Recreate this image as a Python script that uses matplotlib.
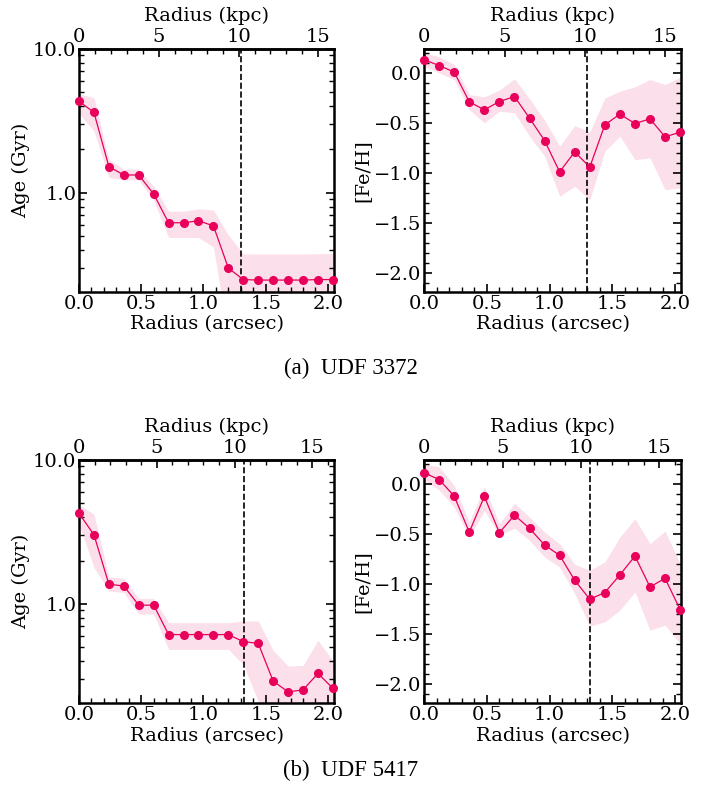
import numpy as np
import matplotlib
matplotlib.use("Agg")
import matplotlib.pyplot as plt
from matplotlib.ticker import MultipleLocator, FormatStrFormatter, LogLocator, NullFormatter, FixedLocator

# Radial bins (arcsec)
radius = [0.00, 0.12, 0.24, 0.36, 0.48, 0.60, 0.72, 0.84, 0.96,
          1.08, 1.20, 1.32, 1.44, 1.56, 1.68, 1.80, 1.92, 2.04]

# UDF 3372
age_3372 = [4.32, 3.62, 1.52, 1.33, 1.33, 0.98, 0.62, 0.62, 0.64,
            0.59, 0.30, 0.25, 0.248, 0.248, 0.248, 0.248, 0.25, 0.25]
age_3372_hi = [4.89, 4.56, 1.71, 1.46, 1.46, 1.11, 0.745, 0.745, 0.774,
               0.76, 0.51, 0.376, 0.376, 0.376, 0.376, 0.376, 0.378, 0.378]
age_3372_lo = [3.55, 2.70, 1.28, 1.23, 1.23, 0.89, 0.49, 0.49, 0.49,
               0.42, 0.10, 0.10, 0.10, 0.10, 0.10, 0.10, 0.10, 0.10]
feh_3372 = [0.13, 0.073, 0.007, -0.29, -0.37, -0.287, -0.237, -0.453, -0.677,
            -0.99, -0.79, -0.943, -0.52, -0.413, -0.507, -0.46, -0.64, -0.593]
feh_3372_hi = [0.20, 0.16, 0.083, -0.217, -0.24, -0.173, -0.06, -0.26, -0.473,
               -0.733, -0.527, -0.593, -0.253, -0.183, -0.14, -0.067, -0.117, -0.043]
feh_3372_lo = [0.067, 0.0, -0.067, -0.367, -0.50, -0.383, -0.40, -0.633, -0.833,
               -1.233, -1.133, -1.267, -0.783, -0.633, -0.867, -0.85, -1.167, -1.15]
kpc_per_arcsec_3372 = 7.8
r_eff_3372 = 1.30

# UDF 5417
age_5417 = [4.25, 3.02, 1.37, 1.33, 0.98, 0.98, 0.612, 0.612, 0.612,
            0.612, 0.612, 0.547, 0.532, 0.291, 0.245, 0.253, 0.329, 0.259]
age_5417_hi = [4.89, 4.21, 1.54, 1.50, 1.09, 1.09, 0.741, 0.741, 0.741,
               0.741, 0.741, 0.761, 0.761, 0.476, 0.370, 0.374, 0.559, 0.401]
age_5417_lo = [3.59, 1.79, 1.23, 1.20, 0.85, 0.85, 0.483, 0.483, 0.483,
               0.483, 0.483, 0.38, 0.21, 0.10, 0.10, 0.10, 0.10, 0.10]
feh_5417 = [0.11, 0.043, -0.123, -0.482, -0.126, -0.488, -0.312, -0.445, -0.611,
            -0.714, -0.963, -1.153, -1.086, -0.91, -0.721, -1.03, -0.944, -1.256]
feh_5417_hi = [0.20, 0.17, -0.017, -0.382, -0.027, -0.399, -0.193, -0.332, -0.482,
               -0.598, -0.804, -0.864, -0.781, -0.532, -0.349, -0.598, -0.472, -0.797]
feh_5417_lo = [0.033, -0.06, -0.233, -0.532, -0.266, -0.515, -0.442, -0.565, -0.731,
               -0.831, -1.096, -1.422, -1.379, -1.262, -1.08, -1.462, -1.412, -1.595]
kpc_per_arcsec_5417 = 8.0
r_eff_5417 = 1.325

kpc_major = [0, 5, 10, 15]
kpc_minor = list(range(0, 17))

captions = ["(a)  UDF 3372", "(b)  UDF 5417"]

PINK = "#E8005A"
BAND = "#FBDFEA"
FS = 14

plt.rcParams["font.family"] = "DejaVu Serif"
plt.rcParams["font.size"] = FS
plt.rcParams["axes.linewidth"] = 1.8


def style_axes(ax):
    ax.tick_params(which="both", direction="in", top=False, right=True,
                   labelsize=FS, pad=2)
    ax.tick_params(which="major", length=6, width=1.2)
    ax.tick_params(which="minor", length=3.5, width=1.0)
    ax.set_xlim(0, 2.05)
    ax.xaxis.set_major_locator(MultipleLocator(0.5))
    ax.xaxis.set_minor_locator(MultipleLocator(0.1))
    ax.xaxis.set_major_formatter(FormatStrFormatter("%.1f"))
    ax.set_xlabel("Radius (arcsec)", labelpad=2)


def add_top(ax, k):
    sec = ax.secondary_xaxis("top", functions=(lambda x: x * k, lambda x: x / k))
    sec.xaxis.set_major_locator(FixedLocator(kpc_major))
    sec.xaxis.set_minor_locator(FixedLocator(kpc_minor))
    sec.tick_params(which="both", direction="in", labelsize=FS, pad=2)
    sec.tick_params(which="major", length=6, width=1.2)
    sec.tick_params(which="minor", length=3.5, width=1.0)
    sec.set_xlabel("Radius (kpc)", labelpad=5)


def plot_profile(ax, y, lo, hi):
    ax.fill_between(radius, lo, hi, color=BAND, lw=0, zorder=1)
    ax.plot(radius, y, "-", color=PINK, lw=0.9, marker="o", ms=5.5,
            clip_on=False, zorder=3)


fig = plt.figure(figsize=(7.01, 7.87), dpi=100)

rows = [
    (0.629, age_3372, age_3372_lo, age_3372_hi, feh_3372, feh_3372_lo, feh_3372_hi,
     kpc_per_arcsec_3372, r_eff_3372),
    (0.1067, age_5417, age_5417_lo, age_5417_hi, feh_5417, feh_5417_lo, feh_5417_hi,
     kpc_per_arcsec_5417, r_eff_5417),
]
caption_y = [1 - 368 / 787, 1 - 770 / 787]

for (bottom, age, age_lo, age_hi, feh, feh_lo, feh_hi, k, reff), cap, cy in zip(rows, captions, caption_y):
    ax1 = fig.add_axes([0.1127, bottom, 0.364, 0.309])
    plot_profile(ax1, age, age_lo, age_hi)
    ax1.set_yscale("log")
    ax1.set_ylim(0.205, 10)
    ax1.yaxis.set_major_locator(FixedLocator([1.0, 10.0]))
    ax1.yaxis.set_minor_locator(LogLocator(base=10, subs=np.arange(2, 10)))
    ax1.yaxis.set_major_formatter(FormatStrFormatter("%.1f"))
    ax1.yaxis.set_minor_formatter(NullFormatter())
    ax1.axvline(reff, color="black", ls="--", lw=1.2, zorder=2)
    style_axes(ax1)
    ax1.set_ylabel("Age (Gyr)", labelpad=2)
    add_top(ax1, k)

    ax2 = fig.add_axes([0.605, bottom, 0.367, 0.309])
    plot_profile(ax2, feh, feh_lo, feh_hi)
    ax2.set_ylim(-2.19, 0.24)
    ax2.yaxis.set_major_locator(MultipleLocator(0.5))
    ax2.yaxis.set_minor_locator(MultipleLocator(0.1))
    ax2.axvline(reff, color="black", ls="--", lw=1.2, zorder=2)
    style_axes(ax2)
    ax2.set_ylabel("[Fe/H]", labelpad=2)
    add_top(ax2, k)

    fig.text(0.5, cy, cap, ha="center", va="center",
             family="Liberation Serif", fontsize=16.5)

fig.savefig("out.png", dpi=100)
